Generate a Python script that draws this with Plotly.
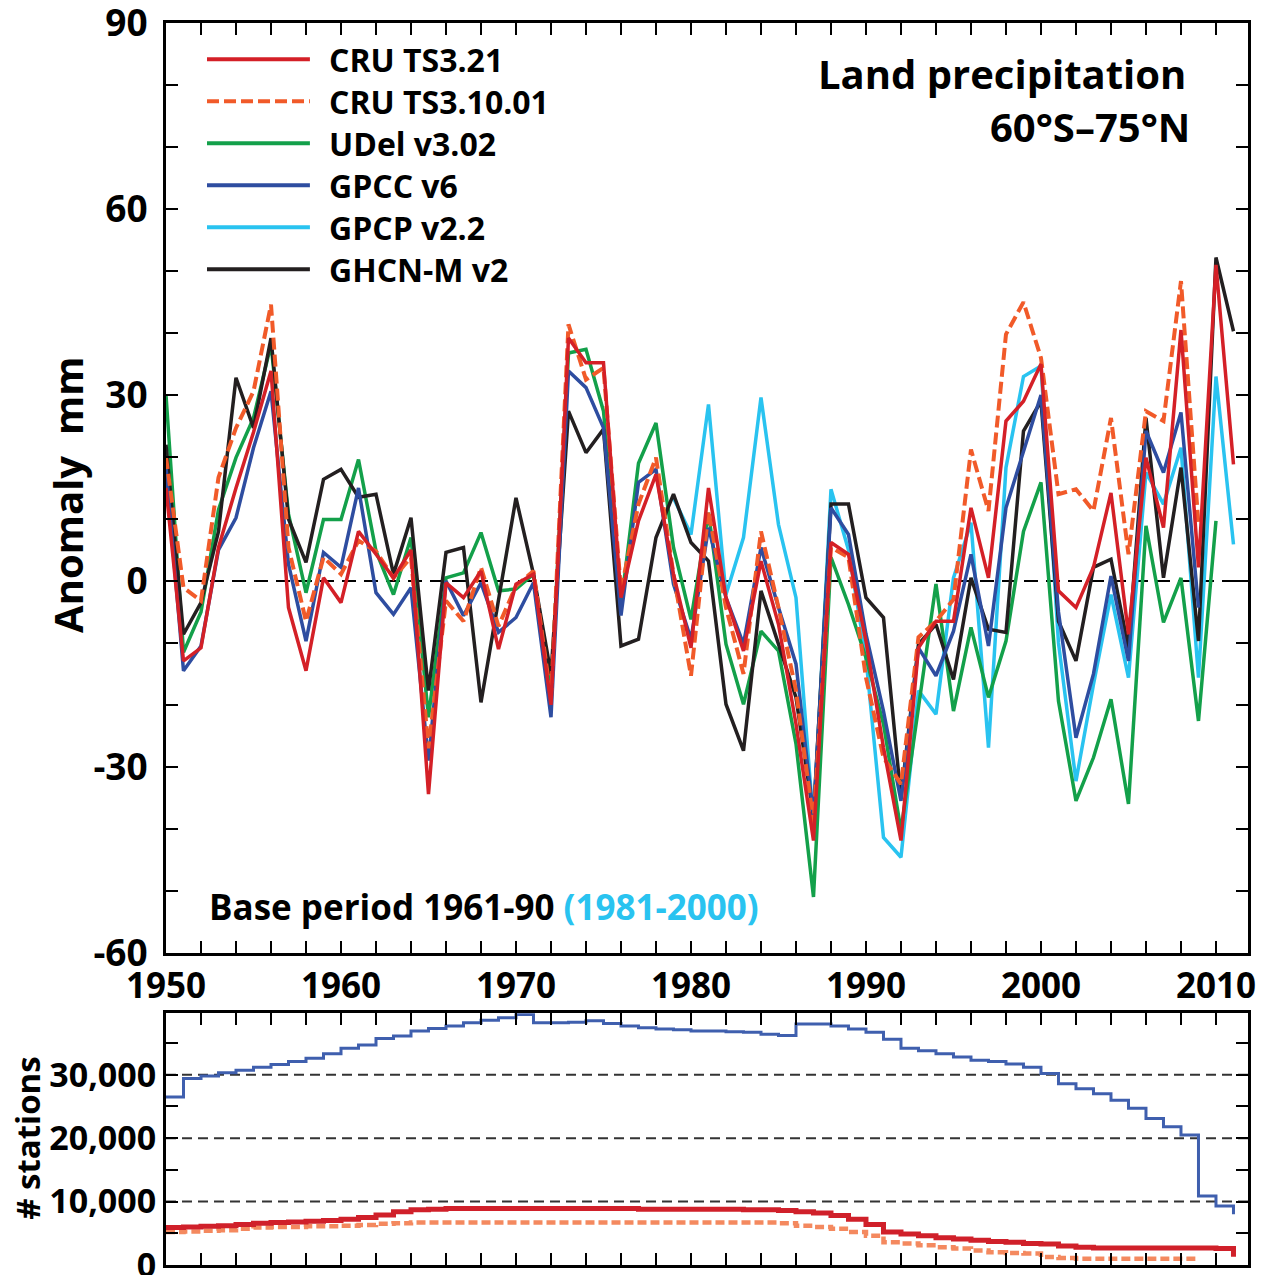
import plotly.graph_objects as go

# ---------------- data ----------------
years = list(range(1950, 2012))

cru321 = [15, -12.9, -10.8, 5.4, 15, 24, 33.9, -4.3, -14.5, 0.5,
          -3.5, 8, 4.3, 0.5, 5, -34.4, -0.3, -2.7, 1.6, -11,
          -0.5, 1.1, -20, 39.2, 35.2, 35.2, -2.7, 9.7, 17.2, 1.1,
          -10.8, 15, -2.7, -11.3, 3.2, -7, -23.1, -41.9, 6.2, 4.3,
          -9.7, -26.9, -41.9, -10.8, -6.5, -6.5, 11.8, 0.5, 25.8, 29,
          35, -1.6, -4.3, 2.2, 14.2, -8.6, 19.9, 8.6, 40.5, 2.2,
          51, 18.8]

cru3101 = [20, -1.1, -3.2, 16.7, 24.7, 30.6, 44.6, 5.4, -6.5, 3.8,
           1.1, 6.5, 4.8, 0.5, 3.8, -27, -3.2, -6.5, 2.2, -7.3,
           -0.8, 1.6, -19, 41.4, 32.5, 34.4, -1.6, 12.4, 19.9, 1.1,
           -15.3, 11.3, -4.3, -15, 8, -4.3, -17.7, -39, 5.4, 3.8,
           -15.6, -28.5, -32.8, -9.1, -6.5, -3, 21.2, 11.3, 39.8, 45,
           36, 14, 14.8, 11.3, 26.3, 4.3, 27.4, 25.8, 48.4, 9,
           None, None]

udel = [30, -11.5, -5, 11.5, 19.9, 26.3, 38.2, 10.8, -1.9, 9.9,
        9.9, 19.6, 4.8, -2.2, 7, -22, 0.5, 1.3, 7.8, -1.6,
        -1.3, 1.1, -18, 36.8, 37.4, 27.4, -4, 19, 25.5, 5.4,
        -6.2, 11, -10.2, -19.9, -8.1, -11.3, -26.3, -51, 3.8, -3.8,
        -12.4, -23.1, -40.3, -20, -0.5, -21, -7.5, -18.8, -9.7, 8,
        15.9, -19.4, -35.5, -28.5, -19.1, -36, 8.9, -6.7, 0.5, -22.6,
        9.7, None]

gpcc = [18.3, -14.5, -10.5, 5, 10.2, 21.5, 30.6, 2.7, -9.7, 4.6,
        2.2, 15, -1.9, -5.4, -1.1, -29, 0, -5.6, -0.3, -8.3,
        -5.9, -0.3, -22, 33.9, 31.2, 24.7, -5.6, 15.9, 18, -0.5,
        -9.4, 8.6, -2.7, -10.2, 5.4, -4.3, -13.4, -38, 11.8, 7.5,
        -8.6, -21, -35.5, -10.8, -15.3, -8.1, 4.3, -10.5, 11.8, 21,
        30, -5, -25.3, -15, 0.8, -12.9, 24.2, 17.5, 27.2, -4.3,
        None, None]

gpcp = [None] * 29 + [13.4,
        7.5, 28.5, -2.2, 7, 29.6, 9.1, -2.7, -39.2, 14.8, 5,
        -12.4, -41.4, -44.6, -17.7, -21.5, 0.5, 9.4, -26.9, 18.3, 33,
        34.7, -10, -32.3, -16.7, -2.2, -15.6, 17.5, 12.4, 21.5, -15.6,
        33, 5.9]

ghcn = [22, -8.6, -3.5, 8, 32.8, 24.7, 39.2, 10, 3, 16.4,
        18, 13.5, 14, 1.1, 10.2, -17.7, 4.6, 5.4, -19.6, -3,
        13.4, 1.1, -15, 27.4, 20.7, 24.5, -10.5, -9.4, 7, 14,
        6.2, 3.2, -19.9, -27.4, -1.6, -10.2, -18.8, -38, 12.4, 12.4,
        -2.7, -5.9, -35, -10.2, -7, -15.9, 0.5, -7.8, -8.3, 24.2,
        29, -6.5, -12.9, 2.2, 3.5, -10.8, 26.3, 0.5, 18.3, -9.7,
        52.2, 40.3]

# station counts
st_gpcc = [26500, 29400, 29800, 30300, 30700, 31200, 31600, 32100, 32600, 33300,
           34200, 34700, 35700, 36100, 36900, 37300, 37700, 38200, 38600, 39000,
           39500, 38200, 38200, 38300, 38500, 38100, 37700, 37400, 37200, 37100,
           36900, 36900, 36800, 36700, 36400, 36200, 38000, 38000, 37700, 37200,
           36700, 35600, 34200, 33800, 33300, 32800, 32300, 32100, 31700, 31200,
           30200, 28600, 27800, 27000, 26000, 24700, 23100, 21800, 20500, 10900,
           9300, 8000]

st_cru321 = [5900, 6000, 6100, 6200, 6400, 6600, 6700, 6800, 6900, 7000,
             7200, 7500, 7900, 8400, 8700, 8800, 8900, 8900, 8900, 8900,
             8900, 8900, 8900, 8900, 8900, 8900, 8900, 8800, 8800, 8800,
             8800, 8800, 8800, 8700, 8700, 8600, 8400, 8200, 7800, 7200,
             6400, 5200, 4900, 4600, 4300, 4100, 3900, 3700, 3600, 3400,
             3300, 3000, 2800, 2700, 2700, 2700, 2700, 2700, 2700, 2700,
             2600, 1300]

st_cru3101 = [5200, 5300, 5400, 5500, 5700, 5900, 6000, 6000, 6100, 6100,
              6200, 6300, 6500, 6600, 6700, 6700, 6700, 6700, 6700, 6700,
              6700, 6700, 6700, 6700, 6700, 6700, 6700, 6700, 6700, 6700,
              6700, 6700, 6700, 6700, 6700, 6600, 6200, 6000, 5700, 5200,
              4600, 3600, 3400, 3100, 2800, 2600, 2300, 2000, 1900, 1800,
              1250, 1100, 1000, 1000, 1000, 1000, 1000, 1000, 1000, 1000,
              None, None]

names = ["CRU TS3.21", "CRU TS3.10.01", "UDel v3.02", "GPCC v6", "GPCP v2.2", "GHCN-M v2"]
colors = ["#d42027", "#f15a29", "#13a04a", "#2e4da0", "#29c3f0", "#231f20"]
dashes = ["solid", "dash", "solid", "solid", "solid", "solid"]
series = [cru321, cru3101, udel, gpcc, gpcp, ghcn]
draw_order = [4, 2, 5, 3, 1, 0]  # plot order (cyan at back)

FONT = "Open Sans"

fig = go.Figure()
for i in draw_order:
    fig.add_trace(go.Scatter(
        x=years, y=series[i], mode="lines", name=names[i],
        line=dict(color=colors[i], width=4 if dashes[i] == "dash" else 3.5,
                  dash="12px,5px" if dashes[i] == "dash" else "solid"),
        xaxis="x", yaxis="y", showlegend=False, connectgaps=False))

# station panel
fig.add_trace(go.Scatter(x=years, y=st_cru3101, mode="lines", line=dict(color="#f4895f", width=4.5, dash="9px,4px", shape="hv"),
                         xaxis="x2", yaxis="y2", showlegend=False))
fig.add_trace(go.Scatter(x=years, y=st_cru321, mode="lines", line=dict(color="#d0202a", width=5, shape="hv"),
                         xaxis="x2", yaxis="y2", showlegend=False))
fig.add_trace(go.Scatter(x=years, y=st_gpcc, mode="lines", line=dict(color="#3f5fae", width=3, shape="hv"),
                         xaxis="x2", yaxis="y2", showlegend=False))

XR = [1950, 2011.83]
xt = list(range(1950, 2013, 2))
xtt = [str(v) if v % 10 == 0 else "" for v in xt]
yt = list(range(-60, 91, 10))
ytt = [str(v) if v % 30 == 0 else "" for v in yt]
y2t = list(range(0, 40000, 5000))
y2tt = ["0", "", "10,000", "", "20,000", "", "30,000", ""]

axis_common = dict(showline=True, linecolor="black", linewidth=3, mirror="ticks",
                   ticks="inside", ticklen=12, tickwidth=2, tickcolor="black",
                   showgrid=False, zeroline=False, ticklabeloverflow="allow", automargin=False)

fig.update_layout(
    width=1265, height=1275,
    margin=dict(l=166, r=17, t=23, b=10, autoexpand=False),
    plot_bgcolor="white", paper_bgcolor="white",
    font=dict(family=FONT, color="black", weight=700),
    xaxis=dict(domain=[0, 1], range=XR, anchor="y", tickmode="array", tickvals=xt, ticktext=xtt,
               ticklabelstandoff=0,
               tickfont=dict(size=35, family=FONT, weight=700), **axis_common),
    yaxis=dict(domain=[0.2512, 1], range=[-60.05, 90.05], anchor="x", tickmode="array", tickvals=yt, ticktext=ytt,
               ticklabelstandoff=8,
               tickfont=dict(size=37, family=FONT, weight=700), **axis_common),
    xaxis2=dict(domain=[0, 1], range=XR, anchor="y2", tickmode="array", tickvals=xt,
                ticktext=[""] * len(xt), **axis_common),
    yaxis2=dict(domain=[0, 0.2027], range=[0, 39700], anchor="x2", tickmode="array", tickvals=y2t,
                ticktext=y2tt, tickfont=dict(size=34, family=FONT, weight=700), **axis_common),
)

shapes = [dict(type="line", xref="x domain", yref="y", x0=0, x1=1, y0=0, y1=0,
               line=dict(color="black", width=2, dash="14px,8px"), layer="below")]
for g in [10000, 20000, 30000]:
    shapes.append(dict(type="line", xref="x2 domain", yref="y2", x0=0, x1=1, y0=g, y1=g,
                       line=dict(color="#333333", width=2, dash="10px,6px"), layer="below"))

annotations = []
# manual legend
for k in range(6):
    yy = 0.961 - k * 0.04516
    shapes.append(dict(type="line", xref="x domain", yref="y domain", x0=0.0379, x1=0.133, y0=yy, y1=yy,
                       line=dict(color=colors[k], width=4, dash="12px,5px" if dashes[k] == "dash" else "solid")))
    annotations.append(dict(xref="x domain", yref="y domain", x=0.149, y=yy, text=names[k], showarrow=False,
                            xanchor="left", yanchor="middle", font=dict(size=32, family=FONT, weight=700)))

annotations += [
    dict(xref="x domain", yref="y domain", x=0.9445, y=0.946, text="Land precipitation", showarrow=False,
         xanchor="right", yanchor="middle", font=dict(size=40, family=FONT, weight=700)),
    dict(xref="x domain", yref="y domain", x=0.948, y=0.889, text="60°S–75°N", showarrow=False,
         xanchor="right", yanchor="middle", font=dict(size=40, family=FONT, weight=700)),
    dict(xref="x domain", yref="y domain", x=0.0379, y=0.0495,
         text="Base period 1961-90 <span style='color:#29c3f0'>(1981-2000)</span>", showarrow=False,
         xanchor="left", yanchor="middle", font=dict(size=35, family=FONT, weight=700)),
    dict(xref="paper", yref="paper", x=-0.0906, y=0.62, text="Anomaly  mm", textangle=-90, showarrow=False,
         xanchor="center", yanchor="middle", font=dict(size=40, family=FONT, weight=700)),
    dict(xref="paper", yref="paper", x=-0.128, y=0.102, text="# stations", textangle=-90, showarrow=False,
         xanchor="center", yanchor="middle", font=dict(size=33, family=FONT, weight=700)),
]

fig.update_layout(shapes=shapes, annotations=annotations)

# pin the figure to the page's top-left corner (no default body margin)
post = ("document.documentElement.style.margin='0';document.body.style.margin='0';"
        "document.body.style.padding='0';"
        "document.documentElement.style.overflow='hidden';document.body.style.overflow='hidden';"
        "var d=document.getElementById('{plot_id}');"
        "d.style.position='absolute';d.style.left='0px';d.style.top='0px';")
fig.write_html("out.html", post_script=post, config={"displayModeBar": False})
